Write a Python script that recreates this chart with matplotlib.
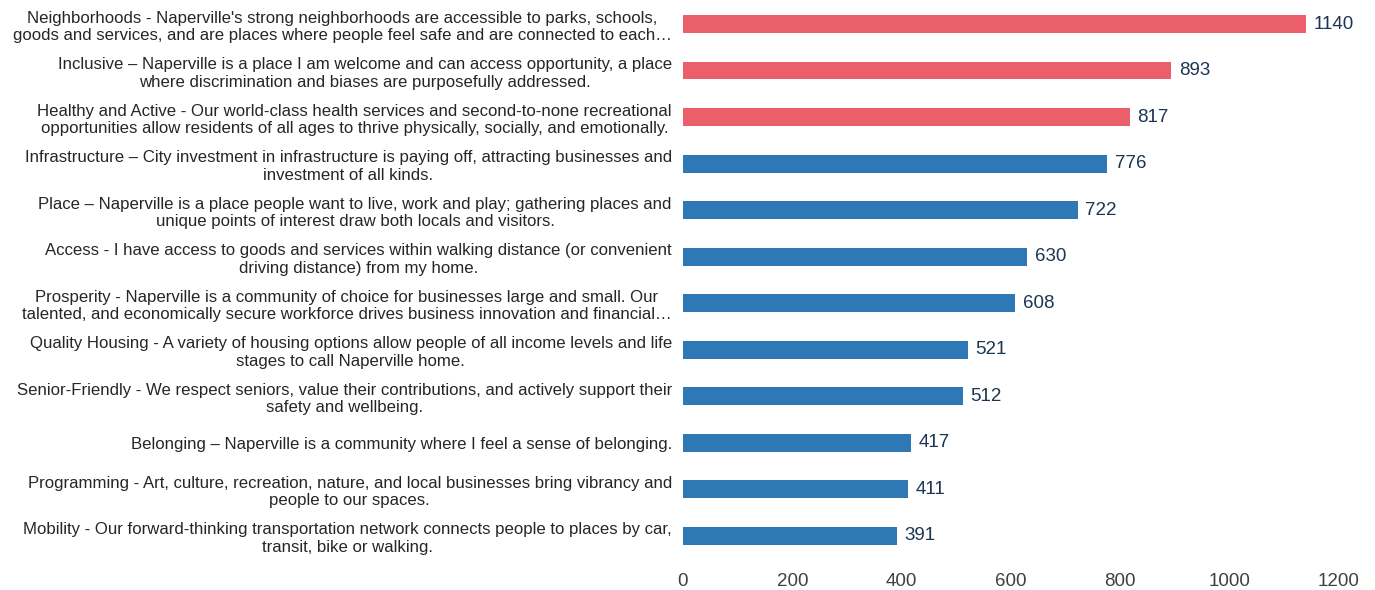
import matplotlib.pyplot as plt

plt.rcParams['font.family'] = ['Liberation Sans', 'DejaVu Sans']

labels = [
    "Neighborhoods - Naperville's strong neighborhoods are accessible to parks, schools,\ngoods and services, and are places where people feel safe and are connected to each\u2026",
    "Inclusive \u2013 Naperville is a place I am welcome and can access opportunity, a place\nwhere discrimination and biases are purposefully addressed.",
    "Healthy and Active - Our world-class health services and second-to-none recreational\nopportunities allow residents of all ages to thrive physically, socially, and emotionally.",
    "Infrastructure \u2013 City investment in infrastructure is paying off, attracting businesses and\ninvestment of all kinds.",
    "Place \u2013 Naperville is a place people want to live, work and play; gathering places and\nunique points of interest draw both locals and visitors.",
    "Access - I have access to goods and services within walking distance (or convenient\ndriving distance) from my home.",
    "Prosperity - Naperville is a community of choice for businesses large and small. Our\ntalented, and economically secure workforce drives business innovation and financial\u2026",
    "Quality Housing - A variety of housing options allow people of all income levels and life\nstages to call Naperville home.",
    "Senior-Friendly - We respect seniors, value their contributions, and actively support their\nsafety and wellbeing.",
    "Belonging \u2013 Naperville is a community where I feel a sense of belonging.",
    "Programming - Art, culture, recreation, nature, and local businesses bring vibrancy and\npeople to our spaces.",
    "Mobility - Our forward-thinking transportation network connects people to places by car,\ntransit, bike or walking.",
]
values = [1140, 893, 817, 776, 722, 630, 608, 521, 512, 417, 411, 391]
top_n = 3  # highlighted in red

red = '#EA5F6A'
blue = '#2E78B5'
colors = [red if i < top_n else blue for i in range(len(values))]

fig = plt.figure(figsize=(13.75, 5.9), dpi=100)
ax = fig.add_axes([0.4967, 0.0525, 0.4771, 0.946])

y = list(range(len(values)))
ax.barh(y, values, height=0.38, color=colors)
for yi, v in zip(y, values):
    ax.text(v + 14, yi, str(v), va='center', ha='left', fontsize=13.5, color='#1C3553')

ax.set_ylim(len(values) - 0.5, -0.5)
ax.set_xlim(0, 1200)
ax.set_xticks(range(0, 1201, 200))
ax.set_yticks(y)
ax.set_yticklabels(labels, fontsize=12.1, color='#262626', multialignment='center',
                   linespacing=1.22)
ax.tick_params(axis='y', length=0, pad=8)
ax.tick_params(axis='x', length=0, pad=10, labelsize=13.5, labelcolor='#404040')
for s in ax.spines.values():
    s.set_visible(False)

fig.savefig('out.png', dpi=100)
